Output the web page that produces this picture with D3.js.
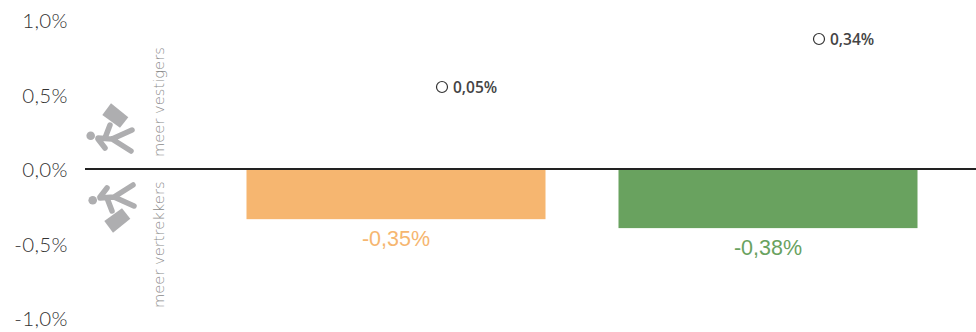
<!DOCTYPE html>
<html><head><meta charset="utf-8">
<script src="https://cdn.jsdelivr.net/npm/d3@7"></script>
<style>html,body{margin:0;padding:0;background:#fff}svg{display:block}</style>
</head><body><svg id="c" width="976" height="332"></svg>
<script>
const categories = ["A", "B"];
const barValues = [-0.33, -0.39];
const barLabels = ["-0,35%", "-0,38%"];
const dotValues = [0.05, 0.34];
const dotLabels = ["0,05%", "0,34%"];
const barColors = ["#f6b670", "#69a25f"];
const tickValues = [1, 0.5, 0, -0.5, -1];
const tickLabels = ["1,0%", "0,5%", "0,0%", "-0,5%", "-1,0%"];

const svg = d3.select("#c");
const y = d3.scaleLinear().domain([-1, 1]).range([319, 21]);
const yDot = d3.scaleLinear().domain([0.05, 0.34]).range([87, 39]);
const xp = d3.scalePoint().domain(categories).range([396, 768]);
const barW = 299;

const axis = d3.axisLeft(y).tickValues(tickValues).tickSize(0).tickPadding(0)
  .tickFormat((d,i)=>tickLabels[i]);
const ax = svg.append("g").attr("transform","translate(68,0)").call(axis);
ax.select(".domain").remove();
ax.selectAll("text").attr("font-family","Lato, sans-serif").attr("font-weight",300)
  .attr("font-size",20.5).attr("letter-spacing",0.4).attr("fill","#333");

svg.selectAll("rect.bar").data(barValues).join("rect").attr("class","bar")
  .attr("x",(d,i)=>xp(categories[i])-barW/2).attr("width",barW)
  .attr("y",y(0)).attr("height",d=>y(d)-y(0))
  .attr("fill",(d,i)=>barColors[i]);
svg.selectAll("text.bl").data(barValues).join("text").attr("class","bl")
  .attr("x",(d,i)=>xp(categories[i])).attr("y",d=>y(d)+27)
  .attr("text-anchor","middle").attr("font-family","'Liberation Sans',sans-serif")
  .attr("font-size",21.5).attr("fill",(d,i)=>barColors[i]).text((d,i)=>barLabels[i]);

svg.append("line").attr("x1",85).attr("x2",976).attr("y1",y(0)-1).attr("y2",y(0)-1)
  .attr("stroke","#222").attr("stroke-width",2);

const dotX = [442, 819];
svg.selectAll("circle.d").data(dotValues).join("circle").attr("class","d")
  .attr("cx",(d,i)=>dotX[i]).attr("cy",d=>yDot(d)).attr("r",5.5)
  .attr("fill","#fff").attr("stroke","#333").attr("stroke-width",1.2);
svg.selectAll("text.dl").data(dotValues).join("text").attr("class","dl")
  .attr("x",(d,i)=>dotX[i]+11).attr("y",d=>yDot(d)+6)
  .attr("font-family","'Open Sans', sans-serif").attr("font-weight",600).attr("font-size",15.5).attr("fill","#444")
  .text((d,i)=>dotLabels[i]);

function vtext(t,xx,yy){
  svg.append("text").attr("transform",`translate(${xx},${yy}) rotate(-90)`)
   .attr("font-family","'DejaVu Sans', sans-serif").attr("font-weight",200).attr("font-size",14.7).attr("fill","#8a8a8a")
   .text(t);
}
vtext("meer vestigers",164,157);
vtext("meer vertrekkers",164,308);

function icon(flip){
  const g = svg.append("g").attr("transform", flip?"translate(2,336) scale(1,-1)":null);
  g.append("circle").attr("cx",90.7).attr("cy",135.7).attr("r",4.3).attr("fill","#aeaeb0");
  g.append("path").attr("d","M111,103.3L128.3,117.3L120,127.7L102.3,115Z").attr("fill","#aeaeb0");
  g.append("path").attr("fill","none").attr("stroke","#aeaeb0").attr("stroke-width",5.5)
   .attr("stroke-linecap","round").attr("stroke-linejoin","round")
   .attr("d","M98,138L112,139L132,130M112,139L131,151M98,139L105,148M105,138L110,125");
}
icon(false); icon(true);
</script></body></html>
